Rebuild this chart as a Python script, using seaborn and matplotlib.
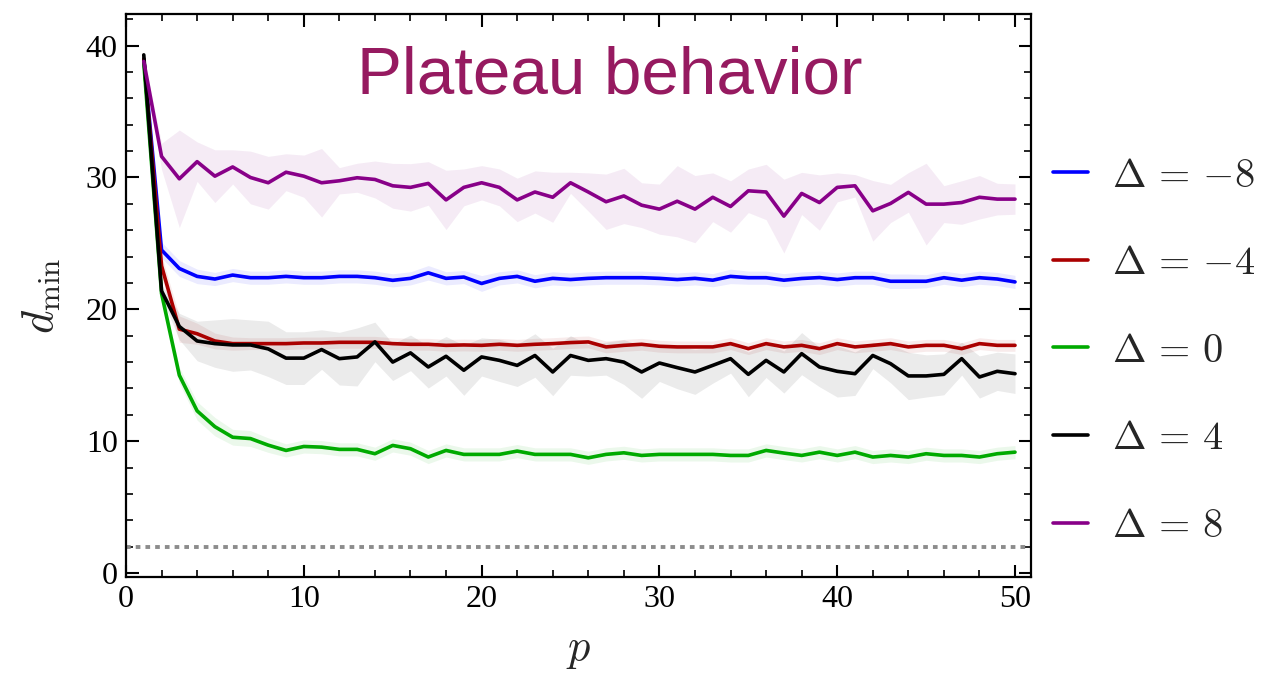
import numpy as np
import pandas as pd
import seaborn as sns
import matplotlib.pyplot as plt
from matplotlib.ticker import MultipleLocator

# ---------------- data ----------------
p_values = list(range(1, 51))

labels = [r"$\Delta\,=\,{-8}$", r"$\Delta\,=\,{-4}$", r"$\Delta\,=\,0$", r"$\Delta\,=\,4$", r"$\Delta\,=\,8$"]
colors = ["#0000FF", "#AA0000", "#00AA00", "#000000", "#880088"]

d_m8 = [39.0, 24.5, 23.1, 22.5, 22.3, 22.6, 22.4, 22.4, 22.5, 22.4,
        22.4, 22.5, 22.5, 22.4, 22.2, 22.35, 22.77, 22.35, 22.45, 21.96,
        22.35, 22.5, 22.13, 22.35, 22.26, 22.35, 22.4, 22.4, 22.4, 22.35,
        22.26, 22.35, 22.21, 22.5, 22.4, 22.4, 22.21, 22.34, 22.41, 22.26,
        22.4, 22.4, 22.13, 22.13, 22.13, 22.4, 22.21, 22.4, 22.3, 22.08]
h_m8 = [0.3, 0.6, 0.6, 0.55, 0.5, 0.5, 0.5, 0.5, 0.5, 0.5,
        0.5, 0.5, 0.5, 0.5, 0.5, 0.5, 0.55, 0.5, 0.5, 0.6,
        0.5, 0.5, 0.5, 0.5, 0.5, 0.5, 0.5, 0.5, 0.5, 0.5,
        0.5, 0.5, 0.5, 0.55, 0.5, 0.5, 0.5, 0.5, 0.5, 0.5,
        0.5, 0.5, 0.55, 0.55, 0.5, 0.5, 0.5, 0.5, 0.5, 0.5]

d_m4 = [39.0, 23.3, 18.5, 18.15, 17.6, 17.4, 17.4, 17.4, 17.4, 17.45,
        17.45, 17.5, 17.5, 17.5, 17.4, 17.35, 17.35, 17.27, 17.3, 17.27,
        17.35, 17.27, 17.35, 17.4, 17.48, 17.53, 17.15, 17.27, 17.35, 17.2,
        17.15, 17.15, 17.15, 17.4, 17.02, 17.4, 17.15, 17.27, 17.02, 17.4,
        17.15, 17.27, 17.4, 17.15, 17.27, 17.27, 17.02, 17.4, 17.27, 17.27]
h_m4 = [0.3, 0.8, 1.0, 0.8, 0.6, 0.5, 0.45, 0.45, 0.45, 0.45,
        0.45, 0.45, 0.45, 0.45, 0.45, 0.45, 0.45, 0.45, 0.45, 0.45,
        0.45, 0.45, 0.45, 0.45, 0.45, 0.45, 0.45, 0.45, 0.45, 0.45,
        0.45, 0.45, 0.45, 0.45, 0.45, 0.45, 0.45, 0.45, 0.45, 0.45,
        0.45, 0.45, 0.45, 0.45, 0.45, 0.45, 0.45, 0.45, 0.45, 0.45]

d_0 = [38.7, 21.2, 15.0, 12.3, 11.1, 10.3, 10.2, 9.7, 9.3, 9.6,
       9.55, 9.38, 9.38, 9.05, 9.68, 9.43, 8.8, 9.3, 9.0, 9.0,
       9.0, 9.25, 9.0, 9.0, 9.0, 8.74, 9.0, 9.12, 8.92, 9.0,
       9.0, 9.0, 9.0, 8.92, 8.92, 9.3, 9.1, 8.92, 9.17, 8.92,
       9.17, 8.8, 8.92, 8.8, 9.05, 8.92, 8.92, 8.8, 9.05, 9.17]
h_0 = [0.3, 0.5, 0.6, 0.7, 0.7, 0.6, 0.6, 0.55, 0.5, 0.5,
       0.5, 0.5, 0.5, 0.5, 0.5, 0.5, 0.5, 0.5, 0.5, 0.5,
       0.5, 0.5, 0.5, 0.5, 0.5, 0.5, 0.5, 0.5, 0.5, 0.5,
       0.5, 0.5, 0.5, 0.5, 0.5, 0.5, 0.5, 0.5, 0.5, 0.5,
       0.5, 0.5, 0.5, 0.5, 0.5, 0.5, 0.5, 0.5, 0.5, 0.5]

d_4 = [39.3, 21.4, 18.7, 17.6, 17.4, 17.3, 17.3, 17.0, 16.3, 16.3,
       16.95, 16.26, 16.39, 17.53, 16.0, 16.7, 15.63, 16.44, 15.38, 16.39,
       16.13, 15.75, 16.5, 15.25, 16.5, 16.13, 16.26, 16.0, 15.25, 15.93,
       15.58, 15.25, 15.75, 16.26, 15.07, 16.13, 15.25, 16.64, 15.63, 15.3,
       15.12, 16.5, 15.88, 14.95, 14.95, 15.07, 16.26, 14.87, 15.3, 15.12]
h_4 = [0.2, 0.5, 1.0, 1.5, 1.8, 2.0, 1.9, 2.1, 2.0, 2.0,
       1.5, 2.0, 2.2, 1.5, 1.4, 1.35, 1.6, 1.5, 1.9, 1.45,
       1.6, 1.6, 1.65, 1.8, 1.5, 1.2, 1.25, 1.7, 2.0, 1.4,
       1.6, 1.7, 1.35, 1.1, 1.7, 1.3, 1.6, 1.6, 1.5, 1.95,
       1.65, 1.0, 1.45, 1.8, 1.6, 1.55, 1.25, 1.6, 1.45, 1.5]

d_8 = [38.8, 31.6, 29.9, 31.2, 30.1, 30.8, 30.0, 29.6, 30.4, 30.1,
       29.6, 29.75, 29.98, 29.85, 29.37, 29.25, 29.55, 28.3, 29.25, 29.6,
       29.25, 28.3, 28.9, 28.5, 29.6, 28.9, 28.16, 28.6, 27.9, 27.6,
       28.2, 27.6, 28.5, 27.8, 28.99, 28.9, 27.07, 28.79, 28.1, 29.25,
       29.37, 27.47, 28.03, 28.87, 27.98, 27.98, 28.1, 28.5, 28.36, 28.36]
h_8 = [0.4, 1.0, 3.7, 1.5, 2.0, 1.3, 2.0, 2.0, 1.4, 1.6,
       2.6, 1.0, 1.1, 1.4, 1.7, 1.8, 1.65, 2.25, 1.4, 1.3,
       1.4, 1.65, 1.6, 1.9, 0.8, 1.45, 2.1, 2.1, 1.7, 1.9,
       2.7, 2.55, 1.85, 1.95, 1.65, 2.1, 2.8, 1.6, 2.1, 1.1,
       0.85, 2.3, 1.45, 1.5, 3.1, 1.4, 1.65, 1.65, 1.2, 1.15]

threshold = 2.0
x_ticks = [0, 10, 20, 30, 40, 50]
y_ticks = [0, 10, 20, 30, 40]
title_text = "Plateau behavior"

# ---------------- build long-form table (center, lower, upper) ----------------
series = [(labels[0], d_m8, h_m8), (labels[1], d_m4, h_m4), (labels[2], d_0, h_0),
          (labels[3], d_4, h_4), (labels[4], d_8, h_8)]
rows = []
for lab, d, h in series:
    for p, v, w in zip(p_values, d, h):
        rows.append((p, v - w, lab))
        rows.append((p, v, lab))
        rows.append((p, v + w, lab))
df = pd.DataFrame(rows, columns=["p", "d", "delta"])

# ---------------- plotting ----------------
sns.set_theme(style="ticks")
plt.rcParams["font.family"] = ["Liberation Serif", "DejaVu Serif"]
plt.rcParams["mathtext.fontset"] = "cm"

fig = plt.figure(figsize=(12.83, 6.79), dpi=100)
ax = fig.add_axes([0.0982, 0.1502, 0.7054, 0.8292])

sns.lineplot(data=df, x="p", y="d", hue="delta", hue_order=labels,
             palette=colors, estimator="mean", errorbar=("pi", 100),
             err_kws={"alpha": 0.08, "linewidth": 0}, linewidth=2.6, ax=ax)

ax.axhline(threshold, color="#8c8c8c", linestyle=(0, (1.2, 1.3)), linewidth=2.8, zorder=1)

ax.set_xlim(0, 50.9)
ax.set_ylim(-0.3, 42.4)
ax.set_xticks(x_ticks)
ax.set_yticks(y_ticks)
ax.xaxis.set_minor_locator(MultipleLocator(2))
ax.yaxis.set_minor_locator(MultipleLocator(2))
ax.tick_params(which="both", direction="in", top=True, right=True,
               labelsize=23, colors="black")
ax.tick_params(which="major", length=9, width=1.5, pad=6)
ax.tick_params(which="minor", length=5, width=1.2)
for s in ax.spines.values():
    s.set_linewidth(1.6)
    s.set_color("black")

ax.set_xlabel(r"$p$", fontsize=32, labelpad=12)
ax.set_ylabel(r"$d_{\min}$", fontsize=32, labelpad=16)

ax.text(0.535, 0.858, title_text, transform=ax.transAxes, ha="center",
        va="baseline", fontsize=48.5, color="#961A60", family="Liberation Sans")

handles, labs = ax.get_legend_handles_labels()
ax.legend(handles, labs, loc="center left", bbox_to_anchor=(0.8207, 0.4816),
          bbox_transform=fig.transFigure, frameon=False, fontsize=29,
          handlelength=0.87, handletextpad=0.6, labelspacing=1.25,
          borderpad=0, borderaxespad=0)

fig.savefig("out.png", dpi=100)
